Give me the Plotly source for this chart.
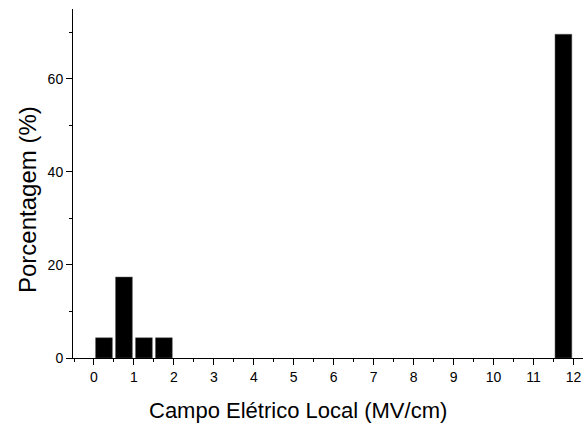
import plotly.graph_objects as go

bin_centers = [0.25, 0.75, 1.25, 1.75, 11.75]
percentages = [4.35, 17.39, 4.35, 4.35, 69.57]
x_tick_vals = list(range(0, 13))
y_tick_vals = [0, 20, 40, 60]

FONT = "Liberation Sans, Arial, sans-serif"

fig = go.Figure()
fig.add_trace(go.Bar(
    x=bin_centers, y=percentages, width=0.42,
    marker=dict(color="black", line=dict(color="#555", width=0.5)),
))

fig.update_layout(
    width=585, height=430,
    margin=dict(l=73, r=2, t=9, b=72),
    paper_bgcolor="white", plot_bgcolor="white",
    showlegend=False,
    font=dict(family=FONT, size=14, color="black"),
    xaxis=dict(
        range=[-0.525, 12.24], showgrid=False, zeroline=False,
        showline=True, linecolor="black", linewidth=1,
        ticks="outside", ticklen=6, tickwidth=1, tickcolor="black",
        tickvals=x_tick_vals, ticktext=[str(v) for v in x_tick_vals],
        minor=dict(dtick=0.5, tick0=0, ticks="outside", ticklen=3, tickcolor="black"),
        tickfont=dict(size=14),
    ),
    yaxis=dict(
        range=[0, 75], showgrid=False, zeroline=False,
        showline=True, linecolor="black", linewidth=1,
        ticks="outside", ticklen=6, tickwidth=1, tickcolor="black",
        tickvals=y_tick_vals, ticktext=[str(v) for v in y_tick_vals],
        minor=dict(dtick=10, tick0=0, ticks="outside", ticklen=3, tickcolor="black"),
        tickfont=dict(size=14),
    ),
    annotations=[
        dict(text="Campo Elétrico Local (MV/cm)", xref="paper", yref="paper",
             x=(297.5 - 73) / (585 - 75), y=-(410 - 358) / (358 - 9),
             xanchor="center", yanchor="middle", showarrow=False,
             font=dict(size=22, family=FONT)),
        dict(text="Porcentagem (%)", xref="paper", yref="paper",
             x=-(73 - 27) / (585 - 75), y=(358 - 200) / (358 - 9),
             xanchor="center", yanchor="middle", showarrow=False, textangle=-90,
             font=dict(size=24, family=FONT)),
    ],
)

fig.write_html("out.html")
